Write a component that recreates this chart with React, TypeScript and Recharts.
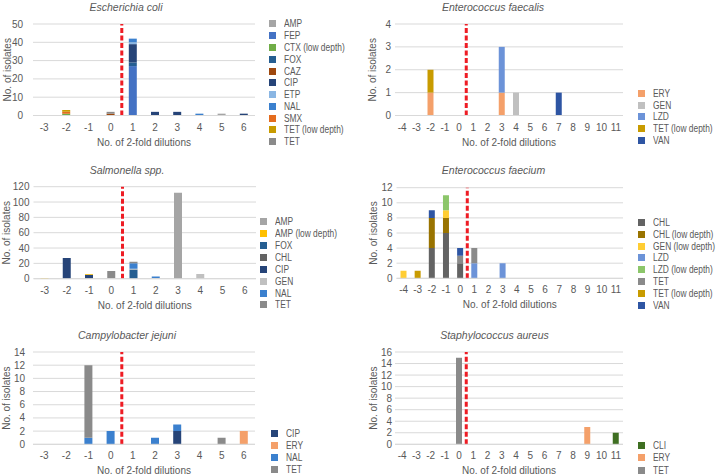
import React from "react";
import { BarChart, Bar, XAxis, YAxis, CartesianGrid, ReferenceLine, Legend } from "recharts";

// number of 2-fold dilutions (x positions)
const dilShort = [-3, -2, -1, 0, 1, 2, 3, 4, 5, 6];
const dilLong = [-4, -3, -2, -1, 0, 1, 2, 3, 4, 5, 6, 7, 8, 9, 10, 11];

// isolate counts per antimicrobial, one value per dilution step
const ecoliSeries = [
  { name: "AMP", values: [0, 0, 0, 0, 0, 0, 0, 0, 1, 0] },
  { name: "FEP", values: [0, 0, 0, 0, 27, 0, 0, 0, 0, 0] },
  { name: "CTX (low depth)", values: [0, 1, 0, 0, 0, 0, 0, 0, 0, 0] },
  { name: "FOX", values: [0, 0, 0, 0, 2, 0, 0, 0, 0, 0] },
  { name: "CAZ", values: [0, 0, 0, 1, 0, 0, 0, 0, 0, 0] },
  { name: "CIP", values: [0, 0, 0, 0, 10, 2, 2, 0, 0, 1] },
  { name: "ETP", values: [0, 0, 0, 0, 1, 0, 0, 0, 0, 0] },
  { name: "NAL", values: [0, 0, 0, 0, 2, 0, 0, 1, 0, 0] },
  { name: "SMX", values: [0, 1, 0, 0, 0, 0, 0, 0, 0, 0] },
  { name: "TET (low depth)", values: [0, 1, 0, 0, 0, 0, 0, 0, 0, 0] },
  { name: "TET", values: [0, 0, 0, 1, 0, 0, 0, 0, 0, 0] },
];

const faecalisSeries = [
  { name: "ERY", values: [0, 0, 1, 0, 0, 0, 0, 1, 0, 0, 0, 0, 0, 0, 0, 0] },
  { name: "GEN", values: [0, 0, 0, 0, 0, 0, 0, 0, 1, 0, 0, 0, 0, 0, 0, 0] },
  { name: "LZD", values: [0, 0, 0, 0, 0, 0, 0, 2, 0, 0, 0, 0, 0, 0, 0, 0] },
  { name: "TET (low depth)", values: [0, 0, 1, 0, 0, 0, 0, 0, 0, 0, 0, 0, 0, 0, 0, 0] },
  { name: "VAN", values: [0, 0, 0, 0, 0, 0, 0, 0, 0, 0, 0, 1, 0, 0, 0, 0] },
];

const salmonellaSeries = [
  { name: "AMP", values: [0, 0, 0, 0, 0, 0, 112, 0, 0, 0] },
  { name: "AMP (low depth)", values: [1, 0, 1, 0, 0, 0, 0, 0, 0, 0] },
  { name: "FOX", values: [0, 0, 0, 0, 12, 0, 0, 0, 0, 0] },
  { name: "CHL", values: [0, 0, 1, 0, 0, 0, 0, 0, 0, 0] },
  { name: "CIP", values: [0, 27, 4, 0, 0, 0, 0, 0, 0, 0] },
  { name: "GEN", values: [0, 0, 0, 1, 1, 1, 0, 6, 0, 0] },
  { name: "NAL", values: [0, 0, 0, 0, 7, 2, 0, 0, 0, 0] },
  { name: "TET", values: [0, 0, 0, 9, 2, 0, 0, 0, 0, 0] },
];
// stacking order (bottom to top) differs from legend order here
const salmonellaStack = ["CHL", "CIP", "AMP (low depth)", "FOX", "GEN", "NAL", "TET", "AMP"];

const faeciumSeries = [
  { name: "CHL", values: [0, 0, 4, 6, 2, 0, 0, 0, 0, 0, 0, 0, 0, 0, 0, 0] },
  { name: "CHL (low depth)", values: [0, 0, 4, 2, 0, 0, 0, 0, 0, 0, 0, 0, 0, 0, 0, 0] },
  { name: "GEN (low depth)", values: [1, 0, 0, 1, 0, 0, 0, 0, 0, 0, 0, 0, 0, 0, 0, 0] },
  { name: "LZD", values: [0, 0, 0, 0, 0, 2, 0, 2, 0, 0, 0, 0, 0, 0, 0, 0] },
  { name: "LZD (low depth)", values: [0, 0, 0, 2, 0, 0, 0, 0, 0, 0, 0, 0, 0, 0, 0, 0] },
  { name: "TET", values: [0, 0, 0, 0, 1, 2, 0, 0, 0, 0, 0, 0, 0, 0, 0, 0] },
  { name: "TET (low depth)", values: [0, 1, 0, 0, 0, 0, 0, 0, 0, 0, 0, 0, 0, 0, 0, 0] },
  { name: "VAN", values: [0, 0, 1, 0, 1, 0, 0, 0, 0, 0, 0, 0, 0, 0, 0, 0] },
];

const campySeries = [
  { name: "CIP", values: [0, 0, 0, 0, 0, 0, 2, 0, 0, 0] },
  { name: "ERY", values: [0, 0, 0, 0, 0, 0, 0, 0, 0, 2] },
  { name: "NAL", values: [0, 0, 1, 2, 0, 1, 1, 0, 0, 0] },
  { name: "TET", values: [0, 0, 11, 0, 0, 0, 0, 0, 1, 0] },
];

const aureusSeries = [
  { name: "CLI", values: [0, 0, 0, 0, 0, 0, 0, 0, 0, 0, 0, 0, 0, 0, 0, 2] },
  { name: "ERY", values: [0, 0, 0, 0, 0, 0, 0, 0, 0, 0, 0, 0, 0, 3, 0, 0] },
  { name: "TET", values: [0, 0, 0, 0, 15, 0, 0, 0, 0, 0, 0, 0, 0, 0, 0, 0] },
];

const colors: Record<string, string> = {
  AMP: "#A5A5A5",
  "AMP (low depth)": "#FFC000",
  FEP: "#4472C4",
  "CTX (low depth)": "#70AD47",
  FOX: "#255E91",
  CAZ: "#9E480E",
  CIP: "#264478",
  ETP: "#8AB6E3",
  NAL: "#3B80CE",
  SMX: "#E46C1E",
  "TET (low depth)": "#C89B00",
  TET: "#8A8A8A",
  CHL: "#636363",
  "CHL (low depth)": "#997300",
  GEN: "#C0C0C0",
  "GEN (low depth)": "#FFCD33",
  LZD: "#6C93D8",
  "LZD (low depth)": "#8CC66A",
  VAN: "#2E55A3",
  ERY: "#F4A06A",
  CLI: "#3F6F22",
};

const font = "'Liberation Sans', Arial, sans-serif";
const textColor = "#595959";

type Series = { name: string; values: number[] };

type Panel = {
  title: string;
  xs: number[];
  series: Series[];
  stack?: string[];
  yMax: number;
  yStep: number;
  left: number;
  top: number;
  width: number;
  height: number;
  plot: [number, number, number, number]; // left, right, top, bottom
  titleAt: [number, number];
  legendAt: [number, number];
  legendStep: number;
  yTitleX: number;
  yGap: number;
  barSize: number;
};

const panels: Panel[] = [
  {
    title: "Escherichia coli", xs: dilShort, series: ecoliSeries, yMax: 50, yStep: 10,
    left: 0, top: 0, width: 360, height: 160, plot: [33, 255, 24, 115.5],
    titleAt: [126, 7], legendAt: [269, 24], legendStep: 11.77, yTitleX: 7, yGap: 10, barSize: 8,
  },
  {
    title: "Enterococcus faecalis", xs: dilLong, series: faecalisSeries, yMax: 4, yStep: 1,
    left: 360, top: 0, width: 357, height: 160, plot: [35, 263, 24, 115.5],
    titleAt: [133, 7], legendAt: [278, 93.3], legendStep: 11.85, yTitleX: 12, yGap: 4, barSize: 6,
  },
  {
    title: "Salmonella spp.", xs: dilShort, series: salmonellaSeries, stack: salmonellaStack, yMax: 120, yStep: 20,
    left: 0, top: 160, width: 360, height: 156, plot: [33.5, 256, 26.7, 118.7],
    titleAt: [127, 10], legendAt: [260, 61.7], legendStep: 11.9, yTitleX: 6, yGap: 4, barSize: 8,
  },
  {
    title: "Enterococcus faecium", xs: dilLong, series: faeciumSeries, yMax: 12, yStep: 2,
    left: 360, top: 160, width: 357, height: 156, plot: [36.5, 263, 27.7, 118.3],
    titleAt: [133.5, 10], legendAt: [278, 62.3], legendStep: 11.9, yTitleX: 13, yGap: 4, barSize: 6,
  },
  {
    title: "Campylobacter jejuni", xs: dilShort, series: campySeries, yMax: 14, yStep: 2,
    left: 0, top: 316, width: 360, height: 160, plot: [33, 255, 36, 128.3],
    titleAt: [127, 19], legendAt: [271, 117.7], legendStep: 12.1, yTitleX: 6, yGap: 8, barSize: 8,
  },
  {
    title: "Staphylococcus aureus", xs: dilLong, series: aureusSeries, yMax: 16, yStep: 2,
    left: 360, top: 316, width: 357, height: 160, plot: [35, 263, 36, 128.3],
    titleAt: [134.5, 19], legendAt: [278, 129], legendStep: 12.5, yTitleX: 13, yGap: 3, barSize: 6,
  },
];

function MicPanel({ p }: { p: Panel }) {
  const [pl, pr, pt, pb] = p.plot;
  const xAxisH = p.height - pb;
  const rows = p.xs.map((x, i) => {
    const row: Record<string, number> = { x };
    p.series.forEach((s) => (row[s.name] = s.values[i]));
    return row;
  });
  const order = p.stack ?? p.series.map((s) => s.name);
  const yTicks: number[] = [];
  for (let v = 0; v <= p.yMax; v += p.yStep) yTicks.push(v);

  return (
    <div style={{ position: "absolute", left: p.left, top: p.top, width: p.width, height: p.height }}>
      <div
        style={{
          position: "absolute", left: p.titleAt[0] - 100, top: p.titleAt[1] - 7, width: 200,
          lineHeight: "14px", textAlign: "center", fontFamily: font, fontSize: 10.5,
          fontStyle: "italic", color: textColor, zIndex: 2,
        }}
      >
        {p.title}
      </div>
      <BarChart
        width={p.width}
        height={p.height}
        data={rows}
        margin={{ top: pt, right: p.width - pr, left: 0, bottom: 0 }}
      >
        <CartesianGrid vertical={false} stroke="#D9D9D9" />
        <XAxis
          type="number"
          dataKey="x"
          domain={[p.xs[0] - 0.5, p.xs[p.xs.length - 1] + 0.5]}
          ticks={p.xs}
          interval={0}
          allowDataOverflow
          height={xAxisH}
          tickLine={false}
          tickSize={0}
          tickMargin={8}
          axisLine={{ stroke: "#D9D9D9" }}
          tick={{ fill: textColor, fontSize: 10, fontFamily: font }}
          label={{
            value: "No. of 2-fold dilutions", position: "insideBottom", offset: xAxisH - 30,
            style: { fill: textColor, fontSize: 10, fontFamily: font },
          }}
        />
        <YAxis
          type="number"
          domain={[0, p.yMax]}
          ticks={yTicks}
          interval={0}
          width={pl}
          axisLine={false}
          tickLine={false}
          tickSize={0}
          tickMargin={p.yGap}
          tick={{ fill: textColor, fontSize: 10, fontFamily: font }}
          label={{
            value: "No. of isolates", angle: -90, position: "insideLeft", offset: p.yTitleX,
            style: { fill: textColor, fontSize: 10, fontFamily: font, textAnchor: "middle" },
          }}
        />
        {order.map((name) => (
          <Bar
            key={name}
            dataKey={name}
            name={name}
            stackId="a"
            fill={colors[name]}
            barSize={p.barSize}
            isAnimationActive={false}
          />
        ))}
        <ReferenceLine x={0.5} stroke="#EE1C24" strokeWidth={3} strokeDasharray="5 2.5" />
        <Legend
          layout="vertical"
          align="center"
          verticalAlign="middle"
          wrapperStyle={{ left: p.legendAt[0], top: p.legendAt[1] - p.legendStep / 2, width: 90 }}
          content={() => (
            <div style={{ fontFamily: font, fontSize: 10, color: textColor }}>
              {p.series.map((s) => (
                <div key={s.name} style={{ height: p.legendStep, display: "flex", alignItems: "center" }}>
                  <span style={{ width: 7, height: 7, background: colors[s.name], marginRight: 8, flex: "none" }} />
                  <span
                    style={{
                      whiteSpace: "nowrap", display: "inline-block",
                      transform: "scaleX(0.84)", transformOrigin: "left center",
                    }}
                  >
                    {s.name}
                  </span>
                </div>
              ))}
            </div>
          )}
        />
      </BarChart>
    </div>
  );
}

export default function App() {
  return (
    <div style={{ position: "absolute", left: 0, top: 0, width: 717, height: 476, background: "#fff" }}>
      {panels.map((p) => (
        <MicPanel key={p.title} p={p} />
      ))}
    </div>
  );
}
